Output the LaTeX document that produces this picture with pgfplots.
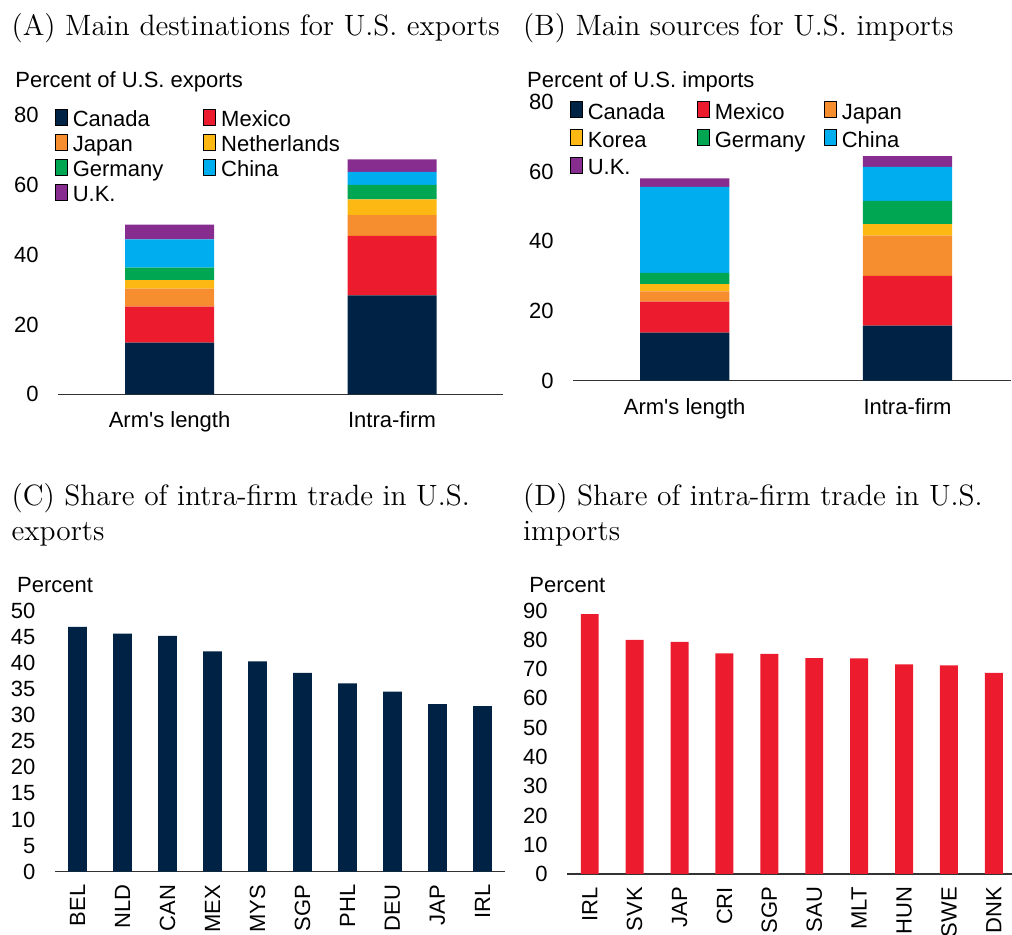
\documentclass[border=0pt]{standalone}
\usepackage{fontspec}
\setsansfont{Liberation Sans}
\usepackage{pgfplots}
\pgfplotsset{compat=1.18}
\definecolor{cnavy}{HTML}{002244}
\definecolor{cred}{HTML}{EC1C2E}
\definecolor{corange}{HTML}{F68D2E}
\definecolor{cyellow}{HTML}{FDB813}
\definecolor{cgreen}{HTML}{00A651}
\definecolor{ccyan}{HTML}{00AEEF}
\definecolor{cpurple}{HTML}{862D8F}
\newcommand{\sfe}{\sffamily\fontsize{11}{13}\selectfont}
\newcommand{\ttl}{\fontsize{14.7}{18}\selectfont}
\pgfplotsset{
  base/.style={
    scale only axis,
    anchor=south west,
    axis x line*=bottom,
    axis y line*=left,
    y axis line style={draw=none},
    x axis line style={black!80, line width=0.6pt},
    major tick length=0pt,
    tick style={draw=none},
    ymin=0,
    /pgf/number format/assume math mode=true,
    ticklabel style={font=\sfe},
    yticklabel style={anchor=east, xshift=-6.3pt},
    clip=false,
  },
  catlab/.style={xticklabel style={anchor=base, yshift=-16.7pt}},
  rotlab/.style={xticklabel style={rotate=90, anchor=east}, xticklabel shift=3pt},
  leg/.style={
    legend cell align=left,
    legend image code/.code={\fill[##1,draw=none] (0pt,0.4pt) rectangle (5.85pt,6.25pt);},
    legend style={draw=none, fill=none, inner sep=0pt, outer sep=0pt, anchor=north west,
      font=\sfe, nodes={inner sep=0pt, text height=8pt, text depth=2.5pt},
      /tikz/every odd column/.style={column sep=2.5pt}},
  },
}
\begin{document}
\begin{tikzpicture}
\path[use as bounding box] (0,0) rectangle (506pt,467.5pt);
% Panel A
\begin{axis}[base, catlab, leg, at={(29.15pt,270.35pt)}, width=222.5pt, height=139.65pt,
  xmin=-0.5, xmax=1.5, ymax=80, ytick={0,20,40,60,80},
  xtick={0,1}, xticklabels={Arm\textquotesingle s length, Intra-firm},
  ybar stacked, bar width=0.4,
  legend columns=2,
  legend style={at={(-0.0074,1.0215)}, row sep=1pt}]
\addplot[fill=cnavy, draw=none] coordinates {(0,14.8) (1,28.3)};
\addlegendentry{\makebox[65.3pt][l]{Canada}}
\addplot[fill=cred, draw=none] coordinates {(0,10.3) (1,17.1)};
\addlegendentry{\makebox[65.3pt][l]{Mexico}}
\addplot[fill=corange, draw=none] coordinates {(0,5.2) (1,5.9)};
\addlegendentry{\makebox[65.3pt][l]{Japan}}
\addplot[fill=cyellow, draw=none] coordinates {(0,2.4) (1,4.5)};
\addlegendentry{\makebox[65.3pt][l]{Netherlands}}
\addplot[fill=cgreen, draw=none] coordinates {(0,3.6) (1,4.2)};
\addlegendentry{\makebox[65.3pt][l]{Germany}}
\addplot[fill=ccyan, draw=none] coordinates {(0,8.1) (1,3.7)};
\addlegendentry{\makebox[65.3pt][l]{China}}
\addplot[fill=cpurple, draw=none] coordinates {(0,4.2) (1,3.6)};
\addlegendentry{\makebox[65.3pt][l]{U.K.}}
\end{axis}
% Panel B
\begin{axis}[base, catlab, leg, at={(286.65pt,277.15pt)}, width=218.9pt, height=139.45pt,
  xmin=-0.5, xmax=1.465, ymax=80, ytick={0,20,40,60,80},
  xtick={0,1}, xticklabels={Arm\textquotesingle s length, Intra-firm},
  ybar stacked, bar width=0.4,
  legend columns=3,
  legend style={at={(-0.0075,1.0018)}, row sep=2.5pt}]
\addplot[fill=cnavy, draw=none] coordinates {(0,13.8) (1,15.8)};
\addlegendentry{\makebox[54.6pt][l]{Canada}}
\addplot[fill=cred, draw=none] coordinates {(0,8.9) (1,14.3)};
\addlegendentry{\makebox[54.6pt][l]{Mexico}}
\addplot[fill=corange, draw=none] coordinates {(0,2.9) (1,11.5)};
\addlegendentry{\makebox[54.6pt][l]{Japan}}
\addplot[fill=cyellow, draw=none] coordinates {(0,2.1) (1,3.3)};
\addlegendentry{\makebox[54.6pt][l]{Korea}}
\addplot[fill=cgreen, draw=none] coordinates {(0,3.2) (1,6.7)};
\addlegendentry{\makebox[54.6pt][l]{Germany}}
\addplot[fill=ccyan, draw=none] coordinates {(0,24.7) (1,9.7)};
\addlegendentry{\makebox[54.6pt][l]{China}}
\addplot[fill=cpurple, draw=none] coordinates {(0,2.4) (1,3.1)};
\addlegendentry{\makebox[54.6pt][l]{U.K.}}
\end{axis}
% Panel C
\begin{axis}[base, rotlab, at={(27.5pt,31.65pt)}, width=225pt, height=130.5pt,
  xmin=-0.5, xmax=9.5, ymax=50, ytick={0,5,...,50},
  xtick={0,...,9}, xticklabels={BEL,NLD,CAN,MEX,MYS,SGP,PHL,DEU,JAP,IRL},
  ybar, bar width=0.415]
\addplot[fill=cnavy, draw=none] coordinates {(0,46.9) (1,45.6) (2,45.2) (3,42.2) (4,40.3) (5,38.1) (6,36.1) (7,34.5) (8,32.1) (9,31.7)};
\end{axis}
% Panel D
\begin{axis}[base, rotlab, at={(283.65pt,30.5pt)}, width=222.25pt, height=131.7pt,
  xmin=-0.5, xmax=9.4, ymax=90, ytick={0,10,...,90},
  xtick={0,...,9}, xticklabels={IRL,SVK,JAP,CRI,SGP,SAU,MLT,HUN,SWE,DNK},
  ybar, bar width=0.40]
\addplot[fill=cred, draw=none] coordinates {(0,88.8) (1,80.0) (2,79.3) (3,75.4) (4,75.2) (5,73.8) (6,73.7) (7,71.6) (8,71.3) (9,68.7)};
\end{axis}
% Titles
\node[anchor=base west, inner sep=0pt, font=\ttl] at (5.6pt,449.5pt) {(A) Main destinations for U.S. exports};
\node[anchor=base west, inner sep=0pt, font=\ttl] at (261.4pt,449.5pt) {(B) Main sources for U.S. imports};
\node[anchor=base west, inner sep=0pt, font=\ttl] at (5.6pt,214.5pt) {(C) Share of intra-firm trade in U.S.};
\node[anchor=base west, inner sep=0pt, font=\ttl] at (5.6pt,197pt) {exports};
\node[anchor=base west, inner sep=0pt, font=\ttl] at (261.4pt,214.5pt) {(D) Share of intra-firm trade in U.S.};
\node[anchor=base west, inner sep=0pt, font=\ttl] at (261.4pt,197pt) {imports};
% Unit labels
\node[anchor=base west, inner sep=0pt, font=\sfe] at (7.5pt,423.85pt) {Percent of U.S. exports};
\node[anchor=base west, inner sep=0pt, font=\sfe] at (263.35pt,423.85pt) {Percent of U.S. imports};
\node[anchor=base west, inner sep=0pt, font=\sfe] at (8.35pt,171.15pt) {Percent};
\node[anchor=base west, inner sep=0pt, font=\sfe] at (264.5pt,171.15pt) {Percent};
\end{tikzpicture}
\end{document}
